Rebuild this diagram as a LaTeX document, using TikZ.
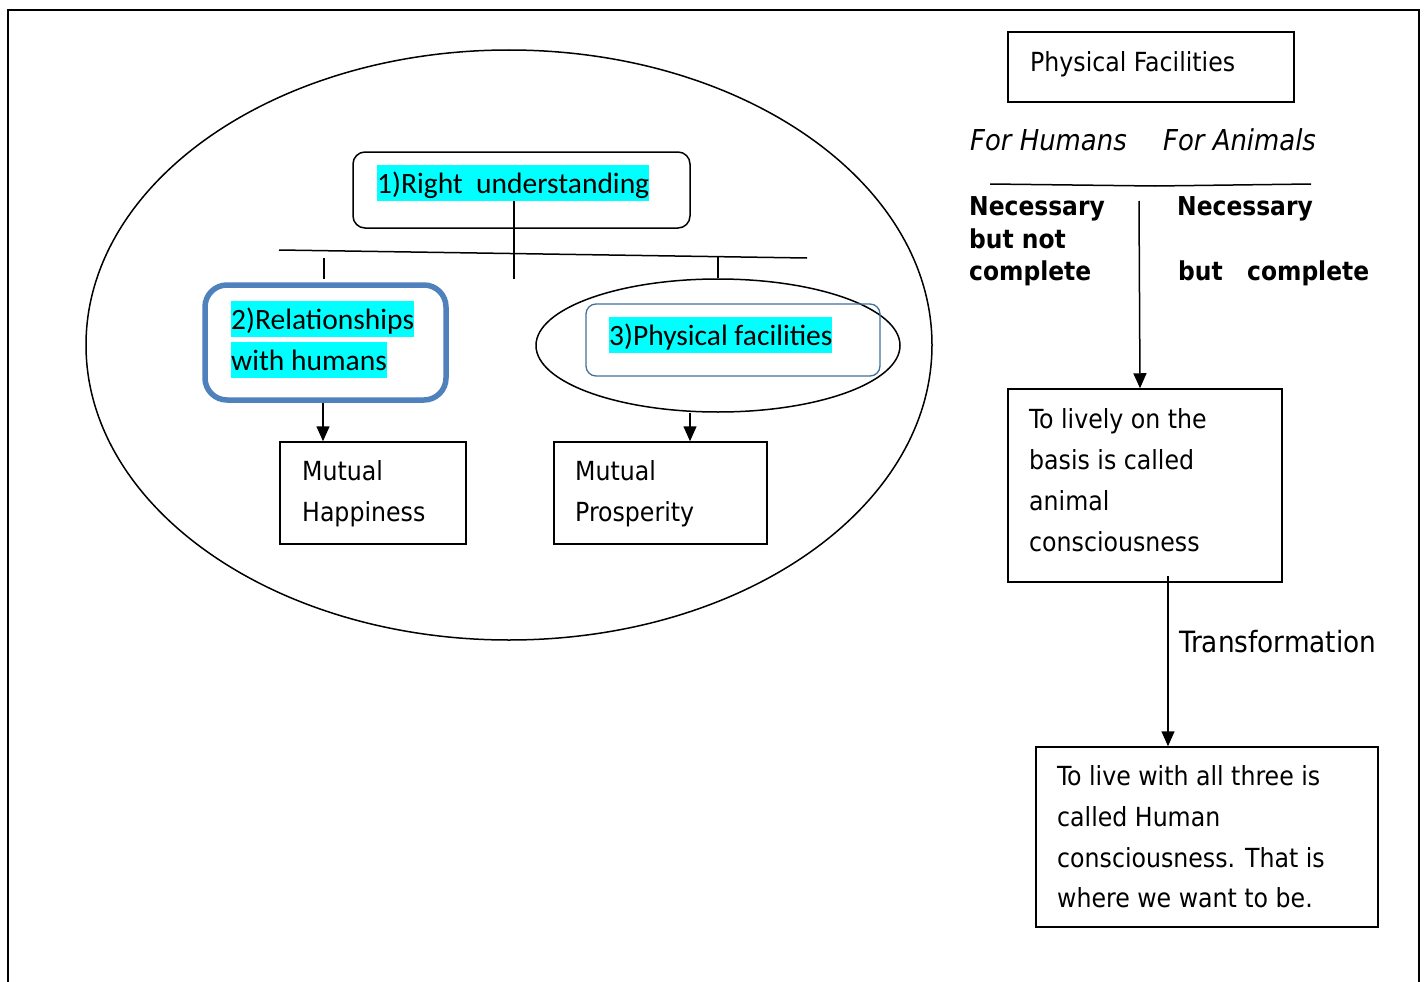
\documentclass[tikz,border=0pt]{standalone}
\usepackage{fontspec}
\setmainfont{Carlito}
\newfontfamily\tah{DejaVu Sans Condensed}
\usetikzlibrary{arrows.meta,shapes.geometric}
\definecolor{hl}{HTML}{00FFFF}
\definecolor{boxblue}{HTML}{4F81BD}
\definecolor{thinblue}{HTML}{41719C}
\begin{document}
\begin{tikzpicture}[x=1pt,y=-1pt,
  ln/.style={line width=1.5pt},
  arr/.style={line width=1.5pt,-{Triangle[width=13pt,length=15pt]}},
  sqbox/.style={draw,line width=1.5pt,inner sep=0pt},
  tx/.style={font=\tah\fontsize{26.3}{30}\selectfont,inner sep=0pt,anchor=base west},
  txb/.style={font=\tah\bfseries\fontsize{26}{30}\selectfont,inner sep=0pt,anchor=base west},
  txi/.style={font=\tah\itshape\fontsize{28.8}{32}\selectfont,inner sep=0pt,anchor=base west},
  hlt/.style={fill=hl,inner sep=0pt,anchor=base west,font=\fontsize{29.5}{32}\selectfont,text height=28pt,text depth=8pt}]
\fill[white] (0,0) rectangle (1425,982);
\useasboundingbox (0,0) rectangle (1425,982);
% outer frame
\draw[line width=2pt] (8,982) -- (8,10) -- (1419,10) -- (1419,982);
% left cluster
\node[ellipse,draw,line width=1.5pt,minimum width=846pt,minimum height=590pt,inner sep=0pt] (bigell) at (509,345) {};
\node[sqbox,rounded corners=12pt,minimum width=337pt,minimum height=76pt] (ru) at (521.5,190) {};
\node[hlt] (rut) at (377,193) {1)Right\ \ understanding};
\node[draw=boxblue,line width=5.5pt,rounded corners=22pt,minimum width=241pt,minimum height=115pt,inner sep=0pt] (rel) at (325.5,342.5) {};
\node[hlt] (relt1) at (231,329) {2)Relationships\ };
\node[hlt] (relt2) at (231,370) {with humans};
\node[ellipse,draw,line width=1.5pt,minimum width=364pt,minimum height=133pt,inner sep=0pt] (sell) at (718,345.5) {};
\node[draw=thinblue,line width=1.3pt,rounded corners=10pt,minimum width=294pt,minimum height=72pt,inner sep=0pt] (pfx) at (733,340) {};
\node[hlt] (pfxt) at (609,345) {3)Physical facilities};
\node[sqbox,minimum width=186pt,minimum height=102pt] (mh) at (373,493) {};
\node[tx] (mh1) at (302,480) {Mutual};
\node[tx] (mh2) at (302,521) {Happiness};
\node[sqbox,minimum width=213pt,minimum height=102pt] (mp) at (660.5,493) {};
\node[tx] (mp1) at (575,480) {Mutual};
\node[tx] (mp2) at (575,521) {Prosperity};
% tree lines
\coordinate (bL) at (279,250);
\coordinate (bR) at (807,258);
\draw[ln] (bL) -- (bR);
\coordinate (v1) at (514,279);
\draw[ln] (rut.south -| v1) -- (v1);
\coordinate (t1a) at (324,258);
\coordinate (t1b) at (324,279);
\draw[ln] (t1a) -- (t1b);
\coordinate (t2) at (718,257);
\draw[ln] (t2) -- (sell.north);
\coordinate (a1) at (323,0);
\draw[arr] (rel.south -| a1) -- (mh.north -| a1);
\coordinate (a2) at (690,0);
\draw[arr] (sell.south -| a2) -- (mp.north -| a2);
% right side
\node[sqbox,minimum width=286pt,minimum height=70pt] (pf) at (1151,67) {};
\node[tx] (pft) at (1030,71) {Physical Facilities};
\node[txi] (fh) at (970,150) {For Humans};
\node[txi] (fa) at (1163,150) {For Animals};
\coordinate (hl1) at (990,184);
\coordinate (hl2) at (1155,186);
\coordinate (hl3) at (1311,184);
\draw[ln] (hl1) -- (hl2) -- (hl3);
\node[txb] (n1) at (969,215) {Necessary};
\node[txb] (n2) at (969,248) {but not};
\node[txb] (n3) at (969,280) {complete};
\node[txb] (n4) at (1177,215) {Necessary};
\node[txb] (n5) at (1178,280) {but\ \ \ complete};
\node[sqbox,minimum width=274pt,minimum height=193pt] (ac) at (1145,485.5) {};
\node[tx] (ac1) at (1029,428) {To lively on the};
\node[tx] (ac2) at (1029,469) {basis is called};
\node[tx] (ac3) at (1029,510) {animal};
\node[tx] (ac4) at (1029,551) {consciousness};
\coordinate (vs) at (1139,201);
\draw[arr] (vs) -- (ac.north -| 1140,0);
\node[sqbox,minimum width=342pt,minimum height=180pt] (hc) at (1207,837) {};
\node[tx] (hc1) at (1057,785) {To live with all three is};
\node[tx] (hc2) at (1057,826) {called Human};
\node[tx] (hc3) at (1057,867) {consciousness. That is};
\node[tx] (hc4) at (1057,907) {where we want to be.};
\coordinate (a3) at (1168,576);
\draw[arr] (a3) -- (hc.north -| a3);
\node[font=\tah\fontsize{29.3}{32}\selectfont,inner sep=0pt,anchor=base west] (tr) at (1179,652) {Transformation};
\end{tikzpicture}
\end{document}
